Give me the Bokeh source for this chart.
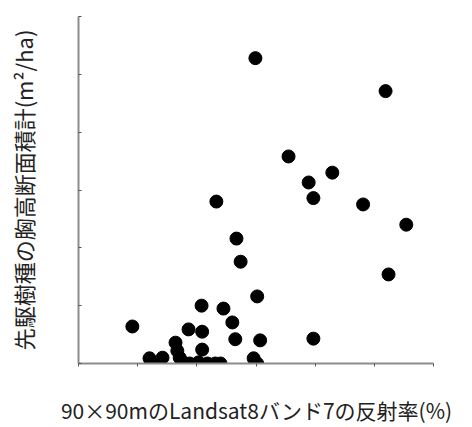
from bokeh.plotting import figure
from bokeh.models import FixedTicker, Range1d
from bokeh.embed import file_html
from bokeh.resources import INLINE

# reflectance (band 7), arbitrary axis units 0..6
reflectance = [2.99, 5.19, 3.55, 4.29, 3.89, 3.97, 4.81, 2.33, 5.54, 2.67,
               2.74, 5.24, 3.02, 0.91, 2.08, 2.45, 2.60, 1.86, 2.09, 2.65,
               3.07, 3.97, 1.64, 1.42, 1.20, 1.23, 1.67, 1.71, 1.77, 1.88,
               2.09, 2.03, 2.18, 2.31, 2.40, 2.96, 3.02]
# basal area of pioneer species, arbitrary axis units 0..6
basal_area = [5.28, 4.71, 3.58, 3.30, 3.13, 2.86, 2.75, 2.80, 2.40, 2.16,
              1.76, 1.54, 1.16, 0.64, 1.00, 0.95, 0.71, 0.59, 0.55, 0.42,
              0.40, 0.43, 0.36, 0.10, 0.09, 0.00, 0.22, 0.10, 0.02, 0.00,
              0.24, 0.02, 0.00, 0.00, 0.00, 0.09, 0.00]
x_ticks = [0, 1, 2, 3, 4, 5, 6]
y_ticks = [0, 1, 2, 3, 4, 5, 6]

x_label = "90×90mのLandsat8バンド7の反射率(%)"
y_label = "先駆樹種の胸高断面積計(m²/ha)"

p = figure(frame_width=355, frame_height=347, output_backend="svg",
           toolbar_location=None, x_range=Range1d(0, 6), y_range=Range1d(0, 6),
           min_border_left=78, min_border_top=16, min_border_right=30,
           min_border_bottom=45)
p.outline_line_color = None
p.grid.visible = False
p.background_fill_color = "white"

p.scatter(reflectance, basal_area, size=13, color="black")

font = "Noto Sans CJK JP"
for ax, ticks in ((p.xaxis[0], x_ticks), (p.yaxis[0], y_ticks)):
    ax.ticker = FixedTicker(ticks=ticks)
    ax.major_label_overrides = {t: "" for t in ticks}
    ax.axis_line_color = "#8c8c8c"
    ax.axis_line_width = 2
    ax.major_tick_line_color = "#555555"
    ax.minor_tick_line_color = None
    ax.major_label_standoff = 0
    ax.axis_label_text_font = font
    ax.axis_label_text_font_style = "normal"
    ax.axis_label_text_color = "#222222"

p.xaxis.axis_label_text_font_size = "21px"
p.yaxis.axis_label_text_font_size = "22px"
p.xaxis.major_tick_out = 3
p.xaxis.major_tick_in = 0
p.yaxis.major_tick_out = 0
p.yaxis.major_tick_in = 3
p.xaxis.axis_label = x_label
p.yaxis.axis_label = y_label
p.xaxis.axis_label_standoff = 28
p.yaxis.axis_label_standoff = 40

open("out.html", "w").write(file_html(p, INLINE))
